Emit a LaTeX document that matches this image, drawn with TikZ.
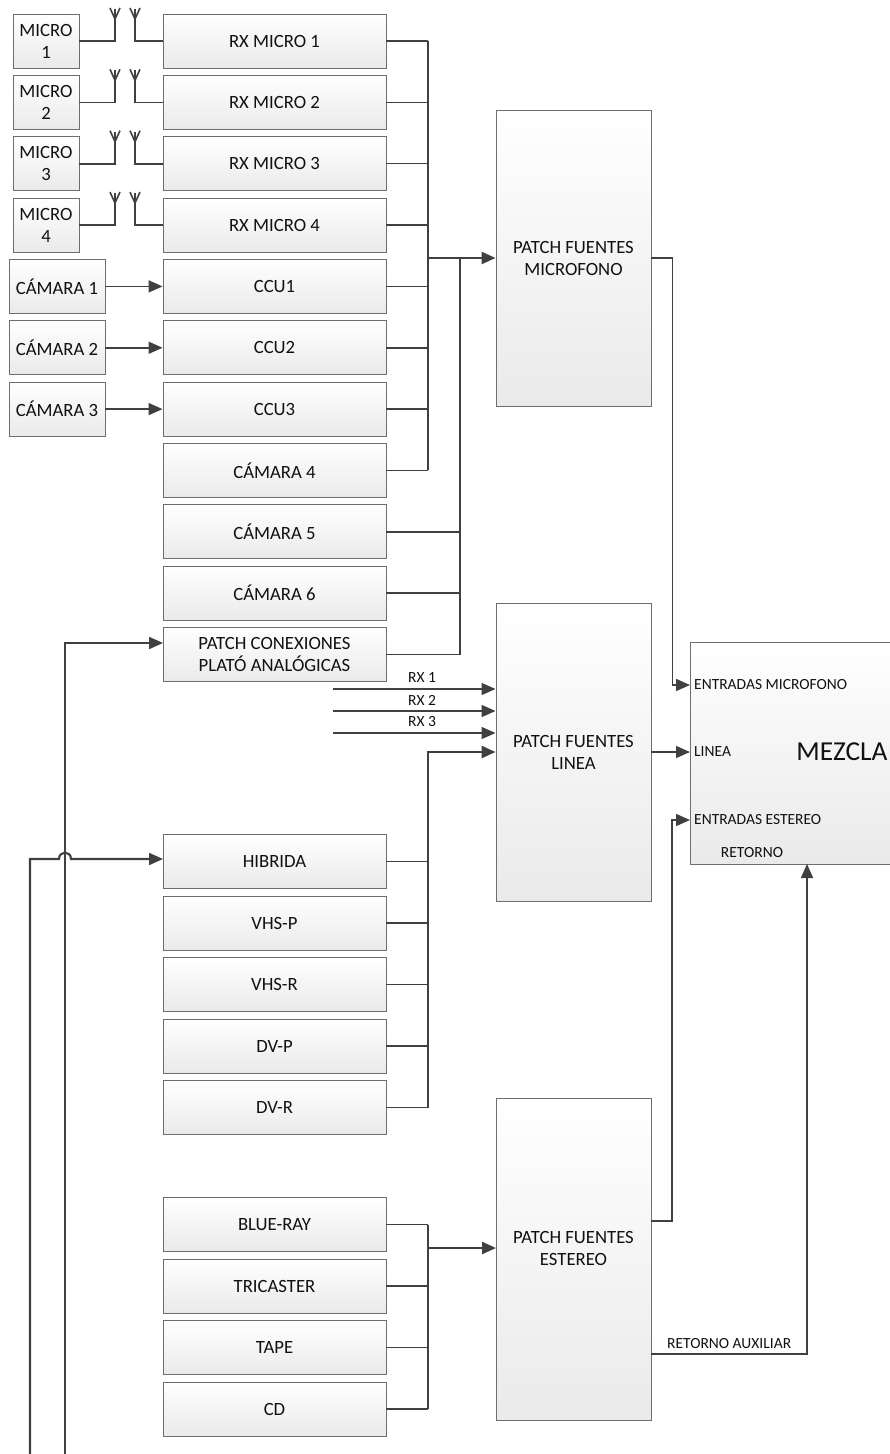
\documentclass[tikz,border=0pt]{standalone}
\usepackage{fontspec}
\setmainfont{Carlito}
\usetikzlibrary{arrows.meta}
\definecolor{ln}{HTML}{404040}
\definecolor{bd}{HTML}{6E6E6E}
\definecolor{bb}{HTML}{EAEAEA}
\definecolor{txt}{HTML}{111111}
\begin{document}
\begin{tikzpicture}[x=1pt,y=-1pt,
  blk/.style={draw=bd, line width=0.9pt, top color=white, bottom color=bb, minimum height=54pt, inner sep=0pt, align=center, text=txt, font=\fontsize{18.7}{22}\selectfont},
  wide/.style={blk, minimum width=223pt},
  micbox/.style={blk, minimum width=66pt},
  cambox/.style={blk, minimum width=96pt},
  patchbox/.style={blk, minimum width=155pt},
  ptxt/.style={align=center, text=txt, inner sep=0pt, font=\fontsize{18.7}{22}\selectfont},
  lbl/.style={text=txt, inner sep=0pt, font=\fontsize{15.5}{18}\selectfont},
  wire/.style={draw=ln, line width=1.5pt},
  bus/.style={draw=ln, line width=2.5pt},
  arr/.style={wire, -{Triangle[length=14pt,width=12pt]}},
  barr/.style={bus, -{Triangle[length=14pt,width=12pt]}},
  ant/.style={draw=ln, line width=1.6pt}
]
\useasboundingbox (0,0) rectangle (890,1454);

% bus x positions
\coordinate (busA) at (428,0);
\coordinate (busB) at (460,0);

% top column
\node[wide] (rx1) at (274.5,41) {RX MICRO 1};
\node[wide] (rx2) at (274.5,102.35) {RX MICRO 2};
\node[wide] (rx3) at (274.5,163.7) {RX MICRO 3};
\node[wide] (rx4) at (274.5,225.05) {RX MICRO 4};
\node[wide] (ccu1) at (274.5,286.4) {CCU1};
\node[wide] (ccu2) at (274.5,347.75) {CCU2};
\node[wide] (ccu3) at (274.5,409.1) {CCU3};
\node[wide] (cam4) at (274.5,470.45) {CÁMARA 4};
\node[wide] (cam5) at (274.5,531.8) {CÁMARA 5};
\node[wide] (cam6) at (274.5,593.15) {CÁMARA 6};
\node[wide] (pcon) at (274.5,654.5) {PATCH CONEXIONES\\PLATÓ ANALÓGICAS};

% micros
\node[micbox] (m1) at (46,41) {MICRO\\1};
\node[micbox] (m2) at (46,102.35) {MICRO\\2};
\node[micbox] (m3) at (46,163.7) {MICRO\\3};
\node[micbox] (m4) at (46,225.05) {MICRO\\4};

% cameras
\node[cambox] (c1) at (57,286.4) {CÁMARA 1};
\node[cambox] (c2) at (57,347.75) {CÁMARA 2};
\node[cambox] (c3) at (57,409.1) {CÁMARA 3};

% antennas
\foreach \m/\r in {m1/rx1,m2/rx2,m3/rx3,m4/rx4}{
  \draw[ant] (\m.east) -- (\m.east -| 115,0) -- ++(0,-32);
  \draw[ant] (\m.east -| 110,0) ++(0,-33) -- ++(5,11) -- ++(5,-11);
  \draw[ant] (\r.west) -- (\r.west -| 135,0) -- ++(0,-32);
  \draw[ant] (\r.west -| 130,0) ++(0,-33) -- ++(5,11) -- ++(5,-11);
}

% camera arrows
\draw[arr] (c1.east) -- (ccu1.west);
\draw[arr] (c2.east) -- (ccu2.west);
\draw[arr] (c3.east) -- (ccu3.west);

% patch boxes
\node[patchbox, minimum height=296pt] (pmic) at (573.5,258) {PATCH FUENTES\\MICROFONO};
\node[patchbox, minimum height=298pt] (plin) at (573.5,752) {PATCH FUENTES\\LINEA};
\node[patchbox, minimum height=322pt] (pest) at (573.5,1259) {};
\node[ptxt] (pestl) at (573.5,1248) {PATCH FUENTES\\ESTEREO};

% top bus A
\foreach \b in {rx1,rx2,rx3,rx4,ccu1,ccu2,ccu3,cam4}{
  \draw[wire] (\b.east) -- (\b.east -| busA);
}
\draw[bus] (rx1.east -| busA) -- (cam4.east -| busA);
\draw[barr] (busA |- pmic.west) -- (pmic.west);
% bus B
\foreach \b in {cam5,cam6,pcon}{
  \draw[wire] (\b.east) -- (\b.east -| busB);
}
\draw[bus] (busB |- pmic.west) -- (pcon.east -| busB);

% RX lines
\coordinate (rx1s) at (333,689);
\coordinate (rx2s) at (333,711);
\coordinate (rx3s) at (333,733);
\draw[arr] (rx1s) -- (rx1s -| plin.west);
\draw[arr] (rx2s) -- (rx2s -| plin.west);
\draw[arr] (rx3s) -- (rx3s -| plin.west);
\node[lbl] (rx1l) at (422,678) {RX 1};
\node[lbl] (rx2l) at (422,700) {RX 2};
\node[lbl] (rx3l) at (422,722) {RX 3};

% lower column
\node[wide] (hib) at (274.5,861.5) {HIBRIDA};
\node[wide] (vhsp) at (274.5,923) {VHS-P};
\node[wide] (vhsr) at (274.5,984.5) {VHS-R};
\node[wide] (dvp) at (274.5,1046) {DV-P};
\node[wide] (dvr) at (274.5,1107.5) {DV-R};
\foreach \b in {hib,vhsp,vhsr,dvp,dvr}{
  \draw[wire] (\b.east) -- (\b.east -| busA);
}
\draw[barr] (dvr.east -| busA) -- (busA |- plin.west) -- (plin.west);

\node[wide] (blue) at (274.5,1224.5) {BLUE-RAY};
\node[wide] (tric) at (274.5,1286) {TRICASTER};
\node[wide] (tape) at (274.5,1347.5) {TAPE};
\node[wide] (cd) at (274.5,1409) {CD};
\foreach \b in {blue,tric,tape,cd}{
  \draw[wire] (\b.east) -- (\b.east -| busA);
}
\draw[bus] (blue.east -| busA) -- (cd.east -| busA);
\coordinate (pes_in) at (496,1248);
\draw[barr] (busA |- pes_in) -- (pes_in);

% MEZCLA
\node[draw=bd, line width=0.9pt, top color=white, bottom color=bb, minimum width=220pt, minimum height=222pt, inner sep=0pt] (mez) at (800,753) {};
\node[text=txt, inner sep=0pt, font=\fontsize{27.4}{30}\selectfont] (mezl) at (842,752) {MEZCLA};
\node[lbl, anchor=west] (emic) at (694,685) {ENTRADAS MICROFONO};
\node[lbl, anchor=west] (elin) at (694,752) {LINEA};
\node[lbl, anchor=west] (eest) at (694,820) {ENTRADAS ESTEREO};
\node[lbl] (eret) at (752,853) {RETORNO};
\coordinate (mz_mic) at (690,685);
\coordinate (mz_lin) at (690,752);
\coordinate (mz_est) at (690,820);
\coordinate (mz_ret) at (807,864);

\draw[arr] (pmic.east) -- ++(21,0) |- (mz_mic);
\draw[arr] (plin.east) -- (mz_lin);
\coordinate (pes_out) at (651,1221);
\draw[arr] (pes_out) -- ++(21,0) |- (mz_est);
\coordinate (raux) at (651,1354);
\draw[arr] (raux) -| (mz_ret);
\node[lbl, anchor=south west] (rauxl) at (667,1349) {RETORNO AUXILIAR};

% left feed lines
\coordinate (bl1) at (30,1454);
\coordinate (bl2) at (65,1454);
\coordinate (pc_in) at (163,643);
\coordinate (hib_in) at (163,859);
\draw[arr, line width=2.1pt] (bl2) |- (pc_in);
\draw[arr, line width=2.1pt] (bl1) -- (30,859) -- (59,859) .. controls (59,850.5) and (71,850.5) .. (71,859) -- (hib_in);
\end{tikzpicture}
\end{document}
